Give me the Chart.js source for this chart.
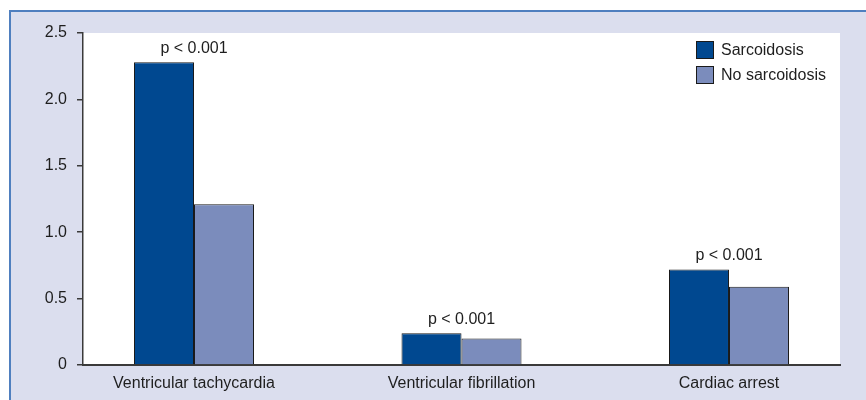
<!DOCTYPE html>
<html>
<head>
<meta charset="utf-8">
<script src="https://cdn.jsdelivr.net/npm/chart.js@4/dist/chart.umd.min.js"></script>
<style>
  html, body { margin: 0; padding: 0; background: #fff; }
  #wrap { width: 866px; height: 400px; }
</style>
</head>
<body>
<div id="wrap"><canvas id="arrhythmiaChart" width="866" height="400"></canvas></div>
<script>
const categories = ['Ventricular tachycardia', 'Ventricular fibrillation', 'Cardiac arrest'];
const seriesNames = ['Sarcoidosis', 'No sarcoidosis'];
const sarcoidosis = [2.28, 0.24, 0.72];
const noSarcoidosis = [1.21, 0.20, 0.59];
const pLabels = ['p < 0.001', 'p < 0.001', 'p < 0.001'];
const yTicks = [0, 0.5, 1.0, 1.5, 2.0, 2.5];

const FONT = "'Liberation Sans', Arial, sans-serif";
const FSIZE = 16;
const TEXT = '#1e1e1e';

// frame, lavender panel, white plot area, legend and p-values
const decorations = {
  id: 'decorations',
  beforeDraw(chart) {
    const ctx = chart.ctx;
    const a = chart.chartArea;
    ctx.save();
    ctx.fillStyle = '#ffffff';
    ctx.fillRect(0, 0, chart.width, chart.height);
    ctx.fillStyle = '#dbdeee';
    ctx.fillRect(10, 10, chart.width - 10, chart.height - 10);
    ctx.fillStyle = '#4f7fbf';
    ctx.fillRect(9, 10, chart.width - 9, 2);
    ctx.fillRect(9, 10, 2, chart.height - 10);
    ctx.fillStyle = '#ffffff';
    ctx.fillRect(a.left, a.top, a.right - a.left, a.bottom - a.top);
    ctx.restore();
  },
  afterDraw(chart) {
    const ctx = chart.ctx;
    const y = chart.scales.y;
    ctx.save();
    ctx.font = FSIZE + 'px ' + FONT;
    ctx.fillStyle = TEXT;
    ctx.textAlign = 'center';
    ctx.textBaseline = 'alphabetic';
    categories.forEach(function (c, i) {
      const x = chart.scales.x.getPixelForValue(i);
      const top = y.getPixelForValue(Math.max(sarcoidosis[i], noSarcoidosis[i]));
      ctx.fillText(pLabels[i], x, top - 9);
    });

    // legend
    const lx = 696, ly = 41;
    chart.data.datasets.forEach(function (ds, i) {
      const by = ly + i * 25;
      ctx.fillStyle = ds.backgroundColor;
      ctx.fillRect(lx, by, 18, 18);
      ctx.strokeStyle = '#1a1a1a';
      ctx.lineWidth = 1;
      ctx.strokeRect(lx + 0.5, by + 0.5, 17, 17);
      ctx.fillStyle = TEXT;
      ctx.textAlign = 'left';
      ctx.textBaseline = 'middle';
      ctx.fillText(ds.label, lx + 25, by + 10);
    });
    ctx.restore();
  }
};

const ctx = document.getElementById('arrhythmiaChart').getContext('2d');
new Chart(ctx, {
  type: 'bar',
  data: {
    datasets: [
      {
        label: seriesNames[0],
        data: sarcoidosis.map(function (v, i) { return { x: i, y: v }; }),
        backgroundColor: '#004890',
        borderColor: '#1a1a1a',
        borderWidth: 1,
        categoryPercentage: 0.4486,
        barPercentage: 1
      },
      {
        label: seriesNames[1],
        data: noSarcoidosis.map(function (v, i) { return { x: i, y: v }; }),
        backgroundColor: '#7b8cbc',
        borderColor: '#1a1a1a',
        borderWidth: 1,
        categoryPercentage: 0.4486,
        barPercentage: 1
      }
    ]
  },
  options: {
    responsive: false,
    animation: false,
    layout: {
      padding: { left: 0, top: 33, right: 26, bottom: 0 }
    },
    plugins: {
      legend: { display: false },
      tooltip: { enabled: false }
    },
    scales: {
      x: {
        type: 'linear',
        offset: false,
        min: -0.415,
        max: 2.415,
        afterFit: function (scale) { scale.height = 35; },
        grid: { display: false, drawTicks: false },
        border: { display: true, color: '#3a3a3a', width: 2 },
        ticks: {
          stepSize: 1,
          includeBounds: false,
          padding: 9,
          color: TEXT,
          font: { family: FONT, size: FSIZE },
          maxRotation: 0,
          autoSkip: false,
          callback: function (v) { return Number.isInteger(v) ? categories[v] : ''; }
        }
      },
      y: {
        min: 0,
        max: 2.5,
        afterFit: function (scale) { scale.width = 83; },
        afterBuildTicks: function (scale) { scale.ticks = yTicks.map(function (v) { return { value: v }; }); },
        grid: { drawOnChartArea: false, drawTicks: true, tickLength: 6, color: '#3a3a3a', lineWidth: 1.5 },
        border: { display: true, color: '#3a3a3a', width: 1.5 },
        ticks: {
          padding: 10,
          color: TEXT,
          font: { family: FONT, size: FSIZE },
          callback: function (v) { return v === 0 ? '0' : v.toFixed(1); }
        }
      }
    }
  },
  plugins: [decorations]
});
</script>
</body>
</html>
